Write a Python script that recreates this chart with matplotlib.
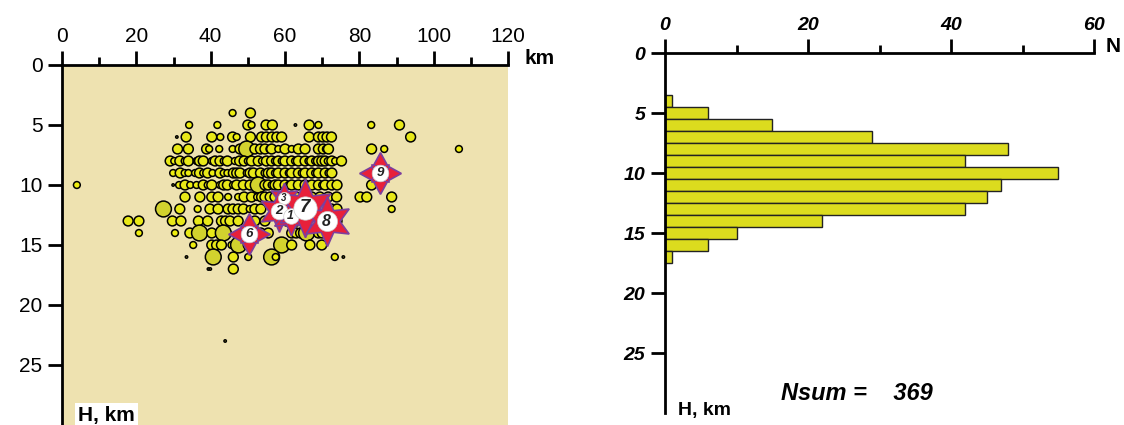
import matplotlib
matplotlib.use("Agg")
from matplotlib import pyplot as plt
from matplotlib.ticker import MultipleLocator

plt.rcParams['font.family'] = ['Liberation Sans', 'DejaVu Sans']

# ---- hypocentres by depth row: x (km along profile), magnitude class 0..3
d4_x = [45.9, 50.7]
d4_m = [1, 2]
d5_x = [34.2, 41.8, 50.0, 51.0, 54.9, 56.6, 62.8, 66.5, 69.0, 83.2, 90.8]
d5_m = [1, 1, 2, 1, 2, 2, 0, 2, 1, 1, 2]
d6_x = [30.9, 33.4, 40.3, 42.6, 45.9, 47.0, 50.7, 53.7, 55.0, 56.5, 57.8, 59.1,
        66.5, 69.0, 70.2, 71.3, 72.5, 93.8]
d6_m = [0, 2, 2, 1, 2, 1, 2, 2, 2, 2, 2, 2, 2, 2, 2, 2, 2, 2]
d7_x = [31.1, 34.0, 38.9, 39.6, 42.3, 45.9, 47.9, 49.7, 51.9, 53.4, 54.6, 55.8,
        56.4, 58.2, 60.0, 61.8, 63.6, 65.4, 69.0, 70.3, 71.0, 71.7, 83.3, 86.7, 106.8]
d7_m = [2, 2, 2, 1, 1, 1, 2, 3, 2, 2, 2, 1, 2, 1, 2, 1, 2, 2, 2, 2, 1, 2, 2, 1, 1]
d8_x = [29.1, 30.2, 31.7, 33.0, 34.0, 36.2, 37.0, 38.0, 40.3, 41.2, 42.5, 43.5,
        44.5, 46.5, 47.8, 49.0, 50.0, 51.0, 52.8, 53.8, 55.0, 56.4, 57.3, 58.2,
        59.1, 60.0, 61.8, 62.7, 63.6, 65.4, 66.3, 67.2, 68.1, 69.0, 69.9, 70.8,
        71.5, 72.6, 73.5, 75.2]
d8_m = [2, 1, 2, 1, 2, 1, 2, 2, 1, 2, 2, 1, 2, 1, 2, 2, 1, 2, 2, 1, 2, 2, 1, 2,
        1, 2, 2, 1, 2, 2, 1, 2, 1, 2, 2, 2, 1, 2, 1, 2]
d9_x = [29.9, 31.8, 33.0, 34.0, 35.8, 37.0, 38.0, 39.2, 40.5, 42.5, 43.5, 44.5,
        46.1, 47.0, 47.9, 49.7, 50.6, 51.5, 53.4, 54.5, 55.5, 56.4, 57.3, 58.2,
        60.0, 61.0, 61.8, 63.6, 64.5, 65.4, 67.2, 68.1, 69.0, 70.8, 71.7, 72.6]
d9_m = [1, 2, 1, 1, 1, 2, 1, 2, 1, 2, 1, 1, 2, 2, 2, 1, 2, 2, 2, 1, 2, 2, 1, 2,
        2, 1, 2, 2, 1, 2, 2, 1, 2, 2, 1, 2]
d10_x = [4.0, 29.9, 31.5, 33.1, 34.5, 36.2, 38.0, 39.2, 40.3, 42.5, 43.5, 44.5,
         46.0, 47.0, 48.8, 50.6, 51.9, 52.8, 54.6, 55.5, 56.4, 57.3, 58.2, 60.0,
         61.0, 61.8, 63.6, 65.4, 66.3, 67.2, 69.0, 70.0, 70.8, 72.6, 74.0, 83.3]
d10_m = [1, 0, 1, 2, 1, 1, 2, 1, 2, 1, 2, 2, 1, 2, 2, 2, 1, 3, 2, 2, 1, 2, 2, 2,
         1, 2, 2, 2, 1, 2, 2, 1, 2, 2, 2, 2]
d11_x = [33.1, 37.1, 40.3, 42.0, 44.7, 47.4, 49.0, 51.0, 52.5, 53.7, 54.6, 56.0,
         57.3, 63.0, 67.2, 69.4, 71.6, 73.9, 80.2, 82.0, 88.7]
d11_m = [2, 2, 2, 2, 1, 1, 2, 2, 1, 2, 2, 2, 2, 2, 2, 2, 2, 2, 2, 2, 2]
d12_x = [27.3, 31.7, 36.5, 39.8, 42.0, 44.7, 46.0, 47.4, 48.8, 50.5, 51.9, 53.5,
         57.0, 62.0, 68.0, 70.0, 72.5, 74.0, 88.7]
d12_m = [3, 2, 1, 2, 2, 2, 2, 2, 2, 1, 2, 2, 2, 2, 2, 2, 2, 2, 1]
d13_x = [17.8, 20.7, 29.7, 32.0, 36.7, 39.2, 42.9, 44.0, 45.2, 47.4, 51.9, 54.6,
         60.4, 61.8, 63.1, 65.4, 67.2, 72.5, 74.0]
d13_m = [2, 2, 2, 2, 2, 2, 2, 2, 2, 2, 2, 2, 2, 2, 2, 2, 2, 2, 2]
d14_x = [20.7, 30.4, 34.4, 37.0, 40.3, 43.4, 51.9, 53.5, 55.5, 61.8, 63.0, 64.2,
         65.8, 69.0, 70.0]
d14_m = [1, 1, 2, 3, 2, 3, 2, 2, 2, 2, 2, 2, 3, 2, 2]
d15_x = [35.3, 40.3, 41.6, 42.9, 45.6, 47.5, 50.1, 59.1, 61.8, 66.7, 69.9]
d15_m = [1, 2, 2, 2, 1, 3, 2, 3, 2, 2, 2]
d16_x = [33.5, 40.7, 46.1, 50.1, 56.4, 57.5, 73.4, 75.7]
d16_m = [0, 3, 2, 1, 3, 1, 1, 0]
d17_x = [39.4, 39.9, 46.1]
d17_m = [0, 0, 2]
d23_x = [43.9]
d23_m = [0]

# ---- strongest events (numbered stars)
star_lbl = ['9', '6', '3', '2', '1', '7', '8']
star_x = [85.6, 50.3, 59.6, 58.4, 61.5, 65.4, 71.2]
star_d = [9.0, 14.1, 11.1, 12.2, 12.6, 11.9, 13.0]

# ---- depth histogram
hist_depth = [4, 5, 6, 7, 8, 9, 10, 11, 12, 13, 14, 15, 16, 17]
hist_count = [1, 6, 15, 29, 48, 42, 55, 47, 45, 42, 22, 10, 6, 1]
n_sum = 369

rows = [(4, d4_x, d4_m), (5, d5_x, d5_m), (6, d6_x, d6_m), (7, d7_x, d7_m),
        (8, d8_x, d8_m), (9, d9_x, d9_m), (10, d10_x, d10_m), (11, d11_x, d11_m),
        (12, d12_x, d12_m), (13, d13_x, d13_m), (14, d14_x, d14_m),
        (15, d15_x, d15_m), (16, d16_x, d16_m), (17, d17_x, d17_m),
        (23, d23_x, d23_m)]

size_of = {0: 3, 1: 24, 2: 50, 3: 130}
color_of = {0: '#e6e61a', 1: '#eeee10', 2: '#e8e818', 3: '#d2d22e'}
star_ms = {'7': 42, '8': 36, '2': 30, '1': 28, '3': 22}

fig = plt.figure(figsize=(11.24, 4.25), dpi=100)

# ================= left: section =================
ax = fig.add_axes([62 / 1124, 0, 446 / 1124, 360 / 425])
ax.set_facecolor('#eee2b0')
ax.set_xlim(0, 120)
ax.set_ylim(30, 0)

xs, ys, ss, cs = [], [], [], []
for depth, xv, mv in rows:
    for x, m in zip(xv, mv):
        xs.append(x)
        ys.append(depth)
        ss.append(size_of[m])
        cs.append(color_of[m])
ax.scatter(xs, ys, s=ss, c=cs, edgecolors='black', linewidths=1.1, zorder=3, clip_on=False)

for lbl, x, d in zip(star_lbl, star_x, star_d):
    if lbl in ('9', '6'):
        ax.plot(x, d, marker=(4, 1, 0), ms=30, mfc='#e8203a', mec='#7b3f9e', mew=1.2, zorder=4)
        ax.plot(x, d, marker=(4, 1, 45), ms=18, mfc='#e8203a', mec='#7b3f9e', mew=1.0, zorder=4)
        ms_c = 12
    else:
        big = star_ms[lbl]
        ax.plot(x, d, marker=(6, 1, 0), ms=big, mfc='#e8203a', mec='#7b3f9e', mew=1.2, zorder=4)
        ms_c = big * 0.4
    ax.plot(x, d, 'o', ms=ms_c, mfc='white', mec='#cccccc', mew=0.5, zorder=5)
    ax.text(x, d, lbl, ha='center', va='center', fontsize=ms_c * 0.8,
            style='italic', fontweight='bold', color='#222222', zorder=6)

for side in ('right', 'bottom'):
    ax.spines[side].set_visible(False)
for side in ('top', 'left'):
    ax.spines[side].set_linewidth(2)
ax.xaxis.tick_top()
ax.xaxis.set_major_locator(MultipleLocator(20))
ax.xaxis.set_minor_locator(MultipleLocator(10))
ax.set_yticks([0, 5, 10, 15, 20, 25])
ax.tick_params(which='major', length=10, width=2, labelsize=15, pad=4)
ax.tick_params(which='minor', length=6, width=2)
ax.tick_params(axis='y', which='minor', left=False)
ax.text(0.036, 0.0, 'H, km', transform=ax.transAxes, ha='left', va='bottom',
        fontsize=15, fontweight='bold',
        bbox=dict(fc='white', ec='none', pad=2))
fig.text(525 / 1124, 1 - 58 / 425, 'km', ha='left', va='center',
         fontsize=15, fontweight='bold')

# ================= right: histogram =================
bx = fig.add_axes([665 / 1124, 1 - 413.3 / 425, 429 / 1124, 360 / 425])
bx.barh(hist_depth, hist_count, height=1.0, color='#dcdc1e',
        edgecolor='#222222', linewidth=1.0, zorder=2)
bx.set_xlim(0, 60)
bx.set_ylim(30, 0)
for side in ('right', 'bottom'):
    bx.spines[side].set_visible(False)
for side in ('top', 'left'):
    bx.spines[side].set_linewidth(2)
bx.xaxis.tick_top()
bx.xaxis.set_major_locator(MultipleLocator(20))
bx.xaxis.set_minor_locator(MultipleLocator(10))
bx.set_yticks([0, 5, 10, 15, 20, 25])
bx.tick_params(which='major', length=10, width=2, labelsize=14, pad=4)
bx.tick_params(which='minor', length=6, width=2)
bx.tick_params(axis='y', which='minor', left=False)
for t in bx.get_xticklabels() + bx.get_yticklabels():
    t.set_fontstyle('italic')
    t.set_fontweight('bold')
fig.text(1106 / 1124, 1 - 47 / 425, 'N', ha='left', va='center',
         fontsize=15, fontweight='bold')
fig.text(678 / 1124, 1 - 410 / 425, 'H, km', ha='left', va='center',
         fontsize=14, fontweight='bold')
fig.text(781 / 1124, 1 - 393 / 425, 'Nsum =    %d' % n_sum, ha='left', va='center',
         fontsize=17, fontweight='bold', style='italic')

fig.savefig('out.png', dpi=100)
